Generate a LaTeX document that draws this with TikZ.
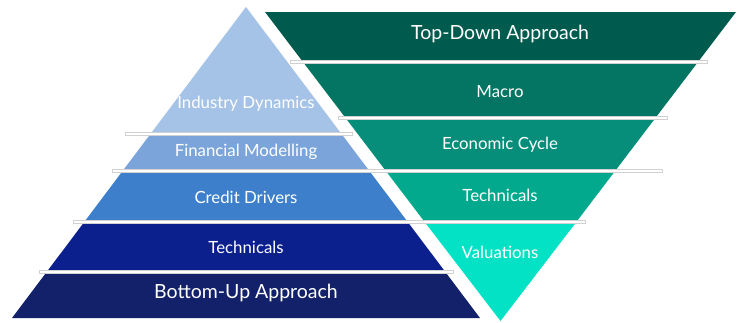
\documentclass[tikz,border=0pt]{standalone}
\usepackage{fontspec}
\setmainfont{Lato}
\definecolor{cID}{HTML}{A5C3E6}
\definecolor{cFM}{HTML}{7BA5DA}
\definecolor{cCD}{HTML}{3E7FCB}
\definecolor{cTL}{HTML}{0B1F8D}
\definecolor{cBU}{HTML}{13216A}
\definecolor{cTD}{HTML}{005B4F}
\definecolor{cMA}{HTML}{047563}
\definecolor{cEC}{HTML}{078E7A}
\definecolor{cTR}{HTML}{02A98D}
\definecolor{cVA}{HTML}{03E2C4}
\begin{document}
\begin{tikzpicture}[x=1pt,y=-1pt,
  sepbar/.style={fill=white, draw=black!18, line width=0.5pt},
  lbl/.style={text=white, font=\fontsize{16.8}{19}\selectfont, inner sep=0pt, anchor=center},
  biglbl/.style={text=white, font=\fontsize{19.5}{22}\selectfont, inner sep=0pt, anchor=center}]
\useasboundingbox (0,0) rectangle (740,322);
\fill[white] (0,0) rectangle (740,322);
% left pyramid
\fill[cID] (246,7) -- (340.8,133) -- (151.2,133) -- cycle;
\fill[cFM] (151.2,133) -- (340.8,133) -- (369.4,171) -- (122.6,171) -- cycle;
\fill[cCD] (122.6,171) -- (369.4,171) -- (407.0,221) -- (85.0,221) -- cycle;
\fill[cTL] (85.0,221) -- (407.0,221) -- (444.6,271) -- (47.4,271) -- cycle;
\fill[cBU] (47.4,271) -- (444.6,271) -- (480,318) -- (12,318) -- cycle;
% right inverted pyramid
\fill[cTD] (265,12) -- (736,12) -- (698.0,62) -- (303.0,62) -- cycle;
\fill[cMA] (303.0,62) -- (698.0,62) -- (655.4,118) -- (345.6,118) -- cycle;
\fill[cEC] (345.6,118) -- (655.4,118) -- (615.1,171) -- (385.9,171) -- cycle;
\fill[cTR] (385.9,171) -- (615.1,171) -- (576.3,222) -- (424.7,222) -- cycle;
\fill[cVA] (424.7,222) -- (576.3,222) -- (500.5,321) -- cycle;
% separator bars
\draw[sepbar] (125,132.5) rectangle (352,135.5);
\draw[sepbar] (112,169.5) rectangle (662,172.5);
\draw[sepbar] (73,220) rectangle (585,223);
\draw[sepbar] (39,270.5) rectangle (453,273.5);
\draw[sepbar] (290,60.5) rectangle (707,63.5);
\draw[sepbar] (338,116.5) rectangle (667,119.5);
% labels
\node[lbl] (id) at (246,104) {Industry Dynamics};
\node[lbl] (fm) at (246,152) {Financial Modelling};
\node[lbl] (cd) at (246,197) {Credit Drivers};
\node[lbl] (tl) at (246,247) {Technicals};
\node[biglbl] (bu) at (246,293) {Bottom-Up Approach};
\node[biglbl] (td) at (500,34) {Top-Down Approach};
\node[lbl] (ma) at (500,92) {Macro};
\node[lbl] (ec) at (500,145) {Economic Cycle};
\node[lbl] (tr) at (500,195) {Technicals};
\node[lbl] (va) at (500,252) {Valuations};
\end{tikzpicture}
\end{document}
